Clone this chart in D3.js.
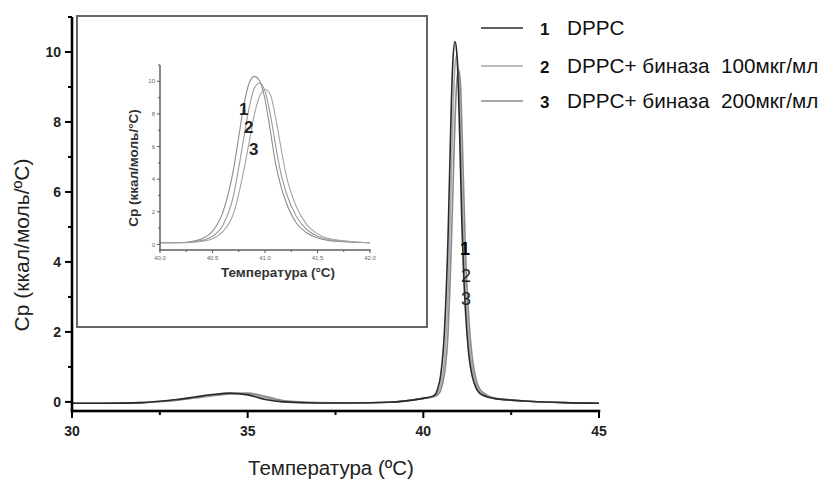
<!DOCTYPE html>
<html>
<head>
<meta charset="utf-8">
<script src="https://cdn.jsdelivr.net/npm/d3@7"></script>
<style>
  body { margin: 0; background: #fff; }
  svg { font-family: Arial, "Liberation Sans", sans-serif; }
</style>
</head>
<body>
<script>
// temperatures (°C) and Cp values
var tMain = [30, 31, 32, 32.5, 33, 33.5, 34, 34.5, 35, 35.5, 36, 37, 38, 39, 39.5, 40, 40.3, 40.4, 40.5, 40.6, 40.7, 40.75, 40.8, 40.85, 40.9, 40.95, 41.0, 41.05, 41.1, 41.15, 41.2, 41.3, 41.4, 41.5, 41.6, 41.8, 42, 42.5, 43, 44, 45];
var cp1 = [-0.04, -0.04, -0.02, 0.02, 0.07, 0.14, 0.21, 0.25, 0.2, 0.07, 0.0, -0.03, -0.03, -0.01, 0.03, 0.1, 0.18, 0.35, 0.8, 2.0, 4.6, 6.6, 8.6, 9.9, 10.3, 10.0, 8.9, 7.0, 5.0, 3.6, 2.6, 1.3, 0.7, 0.4, 0.25, 0.15, 0.1, 0.05, 0.02, -0.02, -0.04];
var cp2 = [-0.04, -0.04, -0.02, 0.01, 0.05, 0.12, 0.19, 0.24, 0.23, 0.12, 0.02, -0.03, -0.03, -0.01, 0.03, 0.1, 0.16, 0.25, 0.5, 1.2, 3.0, 4.7, 6.6, 8.4, 9.6, 9.9, 9.4, 8.0, 6.1, 4.4, 3.2, 1.7, 0.9, 0.5, 0.3, 0.17, 0.11, 0.05, 0.02, -0.02, -0.04];
var cp3 = [-0.04, -0.04, -0.02, 0.01, 0.05, 0.11, 0.18, 0.23, 0.25, 0.16, 0.04, -0.02, -0.03, -0.01, 0.03, 0.1, 0.15, 0.2, 0.35, 0.8, 1.9, 3.1, 4.6, 6.3, 8.0, 9.1, 9.5, 9.2, 7.8, 6.0, 4.3, 2.3, 1.2, 0.65, 0.38, 0.2, 0.12, 0.06, 0.02, -0.02, -0.04];

var tInset = [40.0, 40.2, 40.3, 40.4, 40.5, 40.6, 40.7, 40.75, 40.8, 40.85, 40.9, 40.95, 41.0, 41.05, 41.1, 41.15, 41.2, 41.3, 41.4, 41.5, 41.6, 41.8, 42.0];
var in1 = [0.1, 0.12, 0.18, 0.35, 0.8, 2.0, 4.6, 6.6, 8.6, 9.9, 10.3, 10.0, 8.9, 7.0, 5.0, 3.6, 2.6, 1.3, 0.7, 0.4, 0.25, 0.15, 0.1];
var in2 = [0.1, 0.11, 0.15, 0.25, 0.5, 1.2, 3.0, 4.7, 6.6, 8.4, 9.6, 9.9, 9.4, 8.0, 6.1, 4.4, 3.2, 1.7, 0.9, 0.5, 0.3, 0.17, 0.1];
var in3 = [0.1, 0.11, 0.13, 0.2, 0.35, 0.8, 1.9, 3.1, 4.6, 6.3, 8.0, 9.1, 9.5, 9.2, 7.8, 6.0, 4.3, 2.3, 1.2, 0.65, 0.38, 0.2, 0.1];

var seriesNames = ["DPPC", "DPPC+ биназа  100мкг/мл", "DPPC+ биназа  200мкг/мл"];
var seriesNums = ["1", "2", "3"];
var colors = ["#2a2a2a", "#a8a8a8", "#8a8a8a"];
var insetColors = ["#8c8c8c", "#9a9a9a", "#a4a4a4"];

var mainXTicks = [30, 35, 40, 45];
var mainXMinor = [32.5, 37.5, 42.5];
var mainYTicks = [0, 2, 4, 6, 8, 10];
var mainYMinor = [1, 3, 5, 7, 9, 11];
var insetXTicks = [40.0, 40.5, 41.0, 41.5, 42.0];
var insetXMinor = [40.25, 40.75, 41.25, 41.75];
var insetYTicks = [0, 2, 4, 6, 8, 10];
var insetYMinor = [1, 3, 5, 7, 9, 11];

var W = 827, H = 479;
var svg = d3.select("body").append("svg")
  .attr("width", W)
  .attr("height", H);

var line = d3.line().curve(d3.curveMonotoneX);

// axes as filled rectangles (spine + ticks), placed from the scales
function drawAxes(x, y, o) {
  var x0 = x.range()[0], x1 = x.range()[1];
  var y0 = y.range()[0], y1 = y.range()[1];
  var g = svg.append("g").attr("fill", o.col);
  g.append("rect").attr("x", x0 - o.w / 2).attr("y", y0 - o.w / 2)
    .attr("width", x1 - x0 + o.w).attr("height", o.w);
  g.append("rect").attr("x", x0 - o.w / 2).attr("y", y1)
    .attr("width", o.w).attr("height", y0 - y1 + o.w / 2);
  o.xt.concat(o.xm).forEach(function(v){
    var len = o.xt.indexOf(v) >= 0 ? o.big : o.small;
    g.append("rect").attr("x", x(v) - o.tw / 2).attr("y", y0)
      .attr("width", o.tw).attr("height", len);
  });
  o.yt.concat(o.ym).forEach(function(v){
    var len = o.yt.indexOf(v) >= 0 ? o.big : o.small;
    g.append("rect").attr("x", x0 - len).attr("y", y(v) - o.tw / 2)
      .attr("width", len).attr("height", o.tw);
  });

  o.xt.forEach(function(d){
    svg.append("text")
      .attr("x", x(d)).attr("y", y0 + o.xdy)
      .attr("text-anchor", "middle")
      .attr("font-size", o.fs).attr("font-weight", o.fw).attr("fill", o.tc)
      .text(o.xf(d));
  });
  o.yt.forEach(function(d){
    svg.append("text")
      .attr("x", x0 - o.ydx).attr("y", y(d)).attr("dy", "0.35em")
      .attr("text-anchor", "end")
      .attr("font-size", o.fs).attr("font-weight", o.fw).attr("fill", o.tc)
      .text(o.yf(d));
  });
}

// ---- main plot ----
var x = d3.scaleLinear().domain([30, 45]).range([72, 599]);
var y = d3.scaleLinear().domain([-0.26, 11]).range([411, 17]);

var mainSeries = [cp1, cp2, cp3];
// lighter ones first so DPPC sits on top
[1, 2, 0].forEach(function(i){
  svg.append("path")
    .attr("d", line(tMain.map(function(t, j){ return [x(t), y(mainSeries[i][j])]; })))
    .attr("fill", "none")
    .attr("stroke", colors[i])
    .attr("stroke-width", 1.6);
});

drawAxes(x, y, {
  col: "#000", w: 2.6, tw: 2, big: 7, small: 4,
  xt: mainXTicks, xm: mainXMinor, yt: mainYTicks, ym: mainYMinor,
  fs: 14, fw: "bold", tc: "#222", xdy: 25, ydx: 11,
  xf: d3.format("d"), yf: d3.format("d")
});

svg.append("text")
  .attr("x", 331).attr("y", 475)
  .attr("text-anchor", "middle")
  .attr("font-size", 20.5)
  .attr("fill", "#222")
  .text("Температура (ºС)");

svg.append("text")
  .attr("transform", "translate(29,245) rotate(-90)")
  .attr("text-anchor", "middle")
  .attr("font-size", 21)
  .attr("fill", "#222")
  .text("Ср (ккал/моль/ºС)");

// numbers next to main peak
[[460, 255, "1", "bold", "#000"], [461, 282, "2", "normal", "#222"], [461, 305, "3", "normal", "#222"]].forEach(function(d){
  svg.append("text").attr("x", d[0]).attr("y", d[1])
    .attr("font-size", 18).attr("font-weight", d[3]).attr("fill", d[4])
    .text(d[2]);
});

// ---- legend ----
var legY = [28, 66, 101];
seriesNames.forEach(function(name, i){
  svg.append("line")
    .attr("x1", 481).attr("x2", 523).attr("y1", legY[i]).attr("y2", legY[i])
    .attr("stroke", colors[i]).attr("stroke-width", 1.6);
  svg.append("text").attr("x", 540).attr("y", legY[i] + 7)
    .attr("font-size", 17).attr("font-weight", "bold").attr("fill", "#111")
    .text(seriesNums[i]);
  svg.append("text").attr("x", 567).attr("y", legY[i] + 7)
    .attr("font-size", 20.7).attr("fill", "#111")
    .style("white-space", "pre")
    .text(name);
});

// ---- inset ----
svg.append("rect")
  .attr("x", 77).attr("y", 16).attr("width", 350).attr("height", 311)
  .attr("fill", "#fff")
  .attr("stroke", "#666").attr("stroke-width", 2);

var ix = d3.scaleLinear().domain([40, 42]).range([160, 370]);
var iy = d3.scaleLinear().domain([-0.34, 11]).range([250, 65]);

var insetSeries = [in1, in2, in3];
insetSeries.forEach(function(s, i){
  svg.append("path")
    .attr("d", line(tInset.map(function(t, j){ return [ix(t), iy(s[j])]; })))
    .attr("fill", "none")
    .attr("stroke", insetColors[i])
    .attr("stroke-width", 1.1);
});

drawAxes(ix, iy, {
  col: "#555", w: 1.4, tw: 1, big: 3, small: 2,
  xt: insetXTicks, xm: insetXMinor, yt: insetYTicks, ym: insetYMinor,
  fs: 6, fw: "normal", tc: "#666", xdy: 10, ydx: 5,
  xf: d3.format(".1f"), yf: d3.format("d")
});

svg.append("text")
  .attr("x", 278).attr("y", 277)
  .attr("text-anchor", "middle")
  .attr("font-size", 13.5).attr("font-weight", "bold")
  .attr("fill", "#333")
  .text("Температура (°С)");

svg.append("text")
  .attr("transform", "translate(138,168) rotate(-90)")
  .attr("text-anchor", "middle")
  .attr("font-size", 13.5).attr("font-weight", "bold")
  .attr("fill", "#333")
  .text("Ср (ккал/моль/°С)");

[[239, 115, "1"], [244, 133, "2"], [249, 155, "3"]].forEach(function(d){
  svg.append("text").attr("x", d[0]).attr("y", d[1])
    .attr("font-size", 17).attr("font-weight", "bold").attr("fill", "#222")
    .text(d[2]);
});
</script>
</body>
</html>
